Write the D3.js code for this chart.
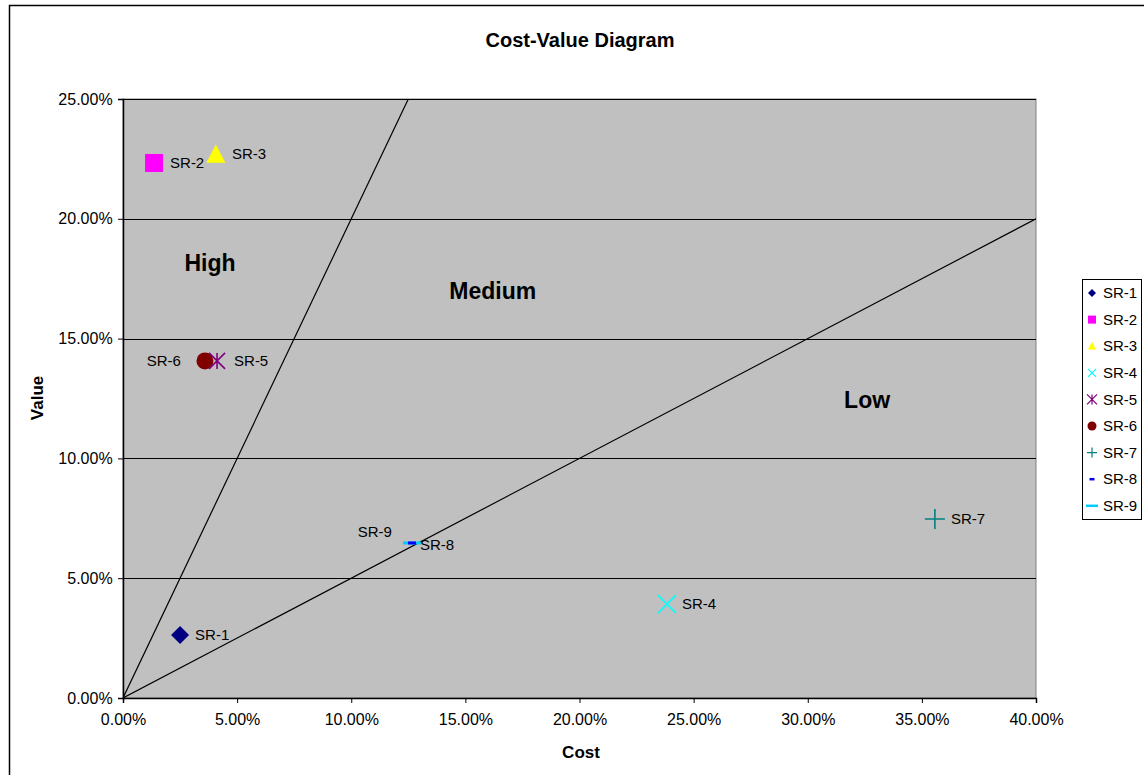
<!DOCTYPE html>
<html>
<head>
<meta charset="utf-8">
<script src="https://cdn.jsdelivr.net/npm/d3@7"></script>
<style>
  body { margin: 0; background: #fff; }
  text { font-family: "Liberation Sans", Arial, sans-serif; }
</style>
</head>
<body>
<div id="chart"></div>
<script>
var names = ["SR-1", "SR-2", "SR-3", "SR-4", "SR-5", "SR-6", "SR-7", "SR-8", "SR-9"];
var cost  = [0.0250, 0.0136, 0.0407, 0.2383, 0.0412, 0.0359, 0.3557, 0.1266, 0.1266];
var value = [0.0263, 0.2233, 0.2266, 0.0392, 0.1407, 0.1407, 0.0747, 0.0647, 0.0647];

var xTicks = [0, 0.05, 0.10, 0.15, 0.20, 0.25, 0.30, 0.35, 0.40];
var yTicks = [0, 0.05, 0.10, 0.15, 0.20, 0.25];

// boundary lines (value = slope * cost)
var boundarySlopes = [2, 0.5];
var zoneNames = ["High", "Medium", "Low"];
var zoneCost  = [0.0381, 0.162, 0.326];
var zoneValue = [0.1815, 0.170, 0.1245];

var width = 1144,
  height = 775;

var margin = {left: 123, top: 99, right: 108, bottom: 77};
var pw = 1036 - margin.left,
  ph = 698 - margin.top;

var x = d3.scaleLinear().domain([0, 0.40]).range([0, pw]);
var y = d3.scaleLinear().domain([0, 0.25]).range([ph, 0]);
var fmt = d3.format(".2%");

var colors = ["#000080", "#ff00ff", "#ffff00", "#00ffff", "#800080", "#800000", "#008080", "#0000ff", "#00ccff"];
var shapes = ["diamond", "square", "triangle", "x", "star", "circle", "plus", "dash", "dash"];
// label offsets [dx, dy, anchor]
var labelPos = [[15, 0, "start"], [16, 0, "start"], [16, -1, "start"], [15, 0, "start"], [17, 0, "start"],
  [-24, 0, "end"], [16, 0, "start"], [8, 2, "start"], [-20, -11, "end"]];

var svg = d3.select("#chart").append("svg")
  .attr("width", width)
  .attr("height", height);

svg.append("rect")
  .attr("x", 9.5).attr("y", 5.5)
  .attr("width", 1150).attr("height", 790)
  .attr("fill", "#fff").attr("stroke", "#000").attr("stroke-width", 1.5);

svg.append("text")
  .attr("x", 580).attr("y", 47)
  .attr("text-anchor", "middle")
  .style("font-size", "20px").style("font-weight", "bold")
  .text("Cost-Value Diagram");

var g = svg.append("g")
  .attr("transform", "translate(" + margin.left + "," + margin.top + ")");

g.append("rect")
  .attr("width", pw).attr("height", ph)
  .attr("fill", "#c0c0c0")
  .attr("stroke", "#808080");

g.selectAll("line.grid")
  .data(yTicks.slice(1))
  .enter().append("line")
  .attr("class", "grid")
  .attr("x1", 0).attr("x2", pw)
  .attr("y1", function(d) { return Math.round(y(d)) + 0.5; })
  .attr("y2", function(d) { return Math.round(y(d)) + 0.5; })
  .attr("stroke", "#000").attr("stroke-width", 1);

var xAxis = g.append("g")
  .attr("transform", "translate(0," + ph + ")")
  .call(d3.axisBottom(x).tickValues(xTicks).tickFormat(fmt).tickSize(5));
var yAxis = g.append("g")
  .call(d3.axisLeft(y).tickValues(yTicks).tickFormat(fmt).tickSize(5));

[xAxis, yAxis].forEach(function(a) {
  a.selectAll("text").style("font-size", "16px").attr("fill", "#000")
    .style("font-family", "'Liberation Sans', Arial, sans-serif");
  a.select(".domain").attr("stroke", "#000").attr("stroke-width", 1.5);
});
xAxis.selectAll("text").attr("dy", "1.2em");
yAxis.selectAll("text").attr("dx", "-0.15em");

// boundary lines clipped to the plot
g.append("clipPath").attr("id", "clip")
  .append("rect").attr("width", pw).attr("height", ph);

g.selectAll("line.bound")
  .data(boundarySlopes)
  .enter().append("line")
  .attr("class", "bound")
  .attr("clip-path", "url(#clip)")
  .attr("x1", x(0)).attr("y1", y(0))
  .attr("x2", function(d) { return x(Math.min(0.40, 0.25 / d)); })
  .attr("y2", function(d) { return y(Math.min(0.40, 0.25 / d) * d); })
  .attr("stroke", "#000").attr("stroke-width", 1.2);

g.selectAll("text.zone")
  .data(zoneNames)
  .enter().append("text")
  .attr("class", "zone")
  .attr("x", function(d, i) { return x(zoneCost[i]); })
  .attr("y", function(d, i) { return y(zoneValue[i]); })
  .attr("dy", "0.35em")
  .attr("text-anchor", "middle")
  .style("font-size", "23px").style("font-weight", "bold")
  .text(function(d) { return d; });

function drawMarker(sel, shape, color, s) {
  if (shape === "diamond") {
    sel.append("path").attr("d", "M0," + (-s) + "L" + s + ",0L0," + s + "L" + (-s) + ",0Z").attr("fill", color);
  } else if (shape === "square") {
    sel.append("rect").attr("x", -s).attr("y", -s).attr("width", 2 * s).attr("height", 2 * s).attr("fill", color);
  } else if (shape === "triangle") {
    sel.append("path").attr("d", "M0," + (-s * 1.1) + "L" + s + "," + s * 0.8 + "L" + (-s) + "," + s * 0.8 + "Z").attr("fill", color);
  } else if (shape === "circle") {
    sel.append("circle").attr("r", s).attr("fill", color);
  } else if (shape === "x") {
    sel.append("path").attr("d", "M" + (-s) + "," + (-s) + "L" + s + "," + s + "M" + (-s) + "," + s + "L" + s + "," + (-s))
      .attr("stroke", color).attr("stroke-width", 1.6);
  } else if (shape === "plus") {
    sel.append("path").attr("d", "M" + (-s) + ",0L" + s + ",0M0," + (-s) + "L0," + s)
      .attr("stroke", color).attr("stroke-width", 1.6);
  } else if (shape === "star") {
    sel.append("path").attr("d", "M" + (-s) + "," + (-s) + "L" + s + "," + s + "M" + (-s) + "," + s + "L" + s + "," + (-s) + "M0," + (-s) + "L0," + s)
      .attr("stroke", color).attr("stroke-width", 1.6);
  } else if (shape === "dash") {
    sel.append("path").attr("d", "M" + (-s) + ",0L" + s + ",0")
      .attr("stroke", color).attr("stroke-width", 3);
  }
}

var markerSize = [9, 9, 9.5, 9, 8, 8.5, 10, 4, 9];

var pts = g.selectAll("g.pt")
  .data(names)
  .enter().append("g")
  .attr("class", "pt")
  .attr("transform", function(d, i) { return "translate(" + x(cost[i]) + "," + y(value[i]) + ")"; });

// draw SR-9 before SR-8 so the small dash sits on top
var order = [0, 1, 2, 3, 5, 4, 6, 8, 7];
order.forEach(function(i) {
  var p = d3.select(pts.nodes()[i]);
  p.raise();
  drawMarker(p, shapes[i], colors[i], markerSize[i]);
});

pts.append("text")
  .attr("x", function(d, i) { return labelPos[i][0]; })
  .attr("y", function(d, i) { return labelPos[i][1]; })
  .attr("dy", "0.35em")
  .attr("text-anchor", function(d, i) { return labelPos[i][2]; })
  .style("font-size", "15px")
  .text(function(d) { return d; });

svg.append("text")
  .attr("x", 581).attr("y", 758)
  .attr("text-anchor", "middle")
  .style("font-size", "17px").style("font-weight", "bold")
  .text("Cost");

svg.append("text")
  .attr("transform", "translate(43,398) rotate(-90)")
  .attr("text-anchor", "middle")
  .style("font-size", "17px").style("font-weight", "bold")
  .text("Value");

// legend
var legend = svg.append("g").attr("transform", "translate(1082,279)");
legend.append("rect")
  .attr("x", 0.5).attr("y", 0.5)
  .attr("width", 59).attr("height", 240)
  .attr("fill", "#fff").attr("stroke", "#000");

var legendSize = [4, 4, 4, 4, 5, 4.5, 5, 2.5, 6];
var items = legend.selectAll("g.item")
  .data(names)
  .enter().append("g")
  .attr("class", "item")
  .attr("transform", function(d, i) { return "translate(10," + (14 + i * 26.6) + ")"; });

items.each(function(d, i) {
  var sel = d3.select(this);
  drawMarker(sel, shapes[i], colors[i], legendSize[i]);
  if (shapes[i] === "x" || shapes[i] === "plus" || shapes[i] === "star") {
    sel.selectAll("path").attr("stroke-width", 1.2);
  } else if (shapes[i] === "dash") {
    sel.selectAll("path").attr("stroke-width", 2.5);
  }
});

items.append("text")
  .attr("x", 11)
  .attr("dy", "0.35em")
  .style("font-size", "15px")
  .text(function(d) { return d; });
</script>
</body>
</html>
